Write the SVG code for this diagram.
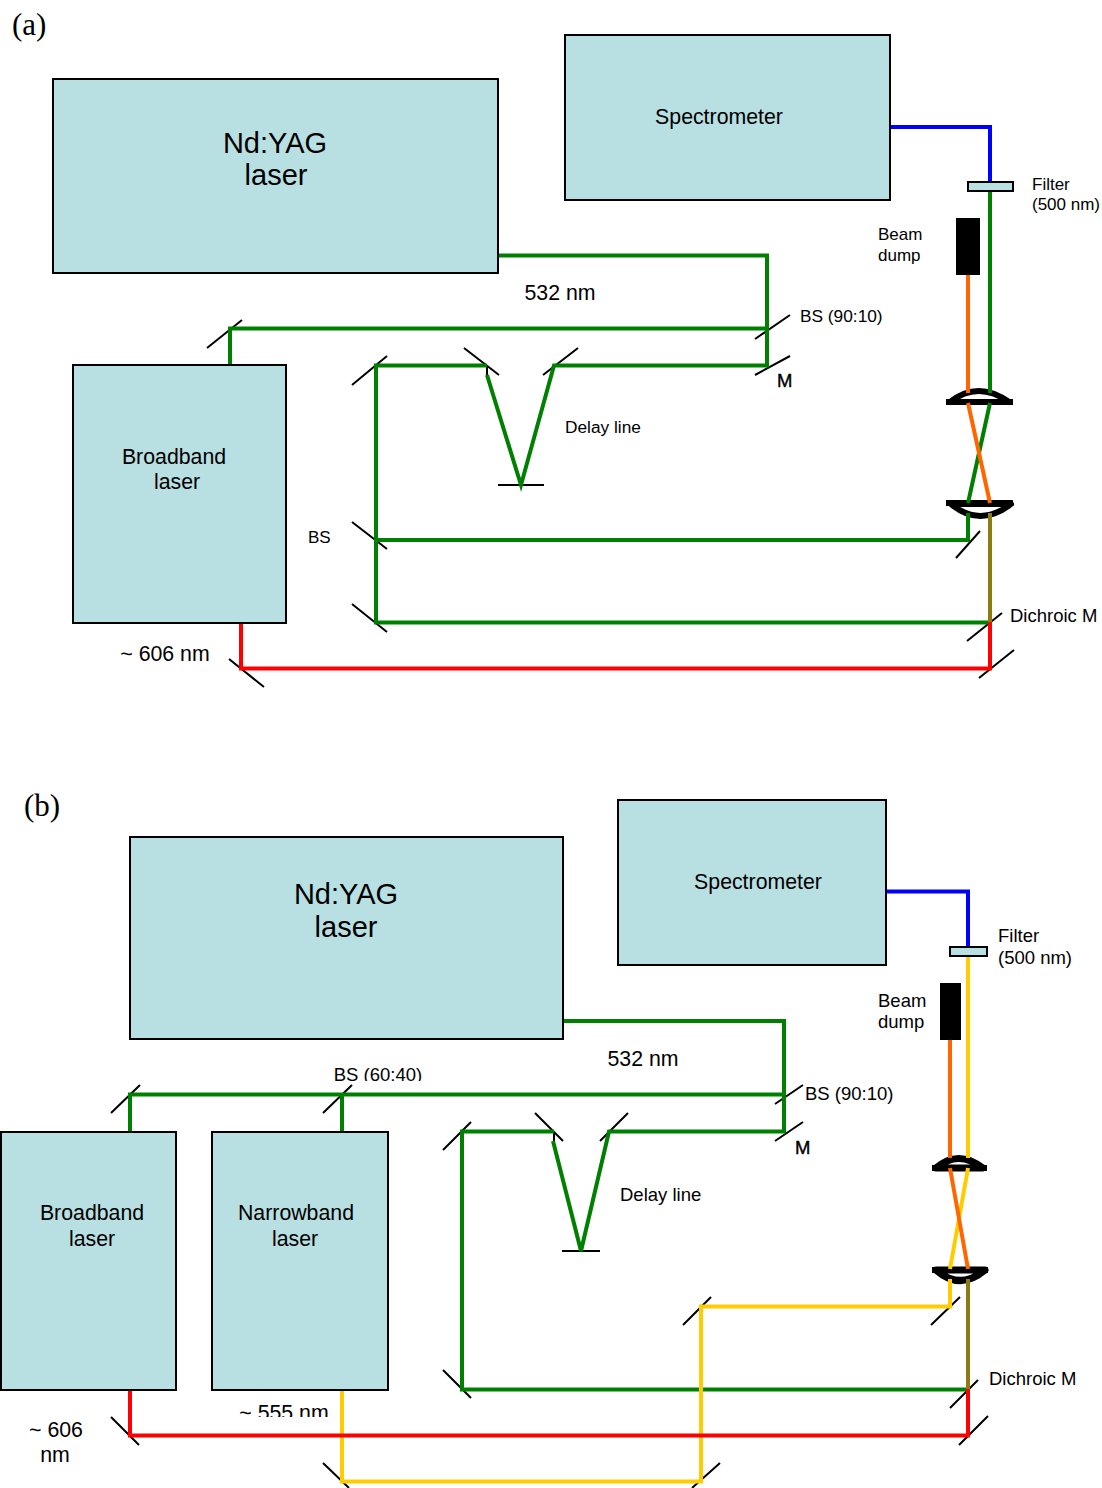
<svg xmlns="http://www.w3.org/2000/svg" width="1102" height="1488" viewBox="0 0 1102 1488">
<style>
.box{fill:#b8dfe2;stroke:#000;stroke-width:2}
.m{stroke:#000;stroke-width:2;fill:none}
.lens{stroke:#000;stroke-width:6;fill:#fff;stroke-linejoin:round}
.lensb{stroke:#000;stroke-width:7;fill:#fff;stroke-linejoin:round}
.flat{stroke:#000;stroke-width:6;fill:none}
.b{fill:none;stroke-width:4;stroke-linejoin:miter}
.g{stroke:#008000}.r{stroke:#ff0000}.o{stroke:#ff6600}.y{stroke:#ffcc00}.u{stroke:#0000ff}.ol{stroke:#8f7a10}
text{font-family:"Liberation Sans",Arial,sans-serif;fill:#000;text-anchor:middle}
.s{font-size:17.3px}.st{font-size:18.5px}.sm{font-size:17px}.xl{font-size:29px}.md{font-size:21.3px}.l{text-anchor:start}
.t{font-family:"Liberation Serif","Times New Roman",serif;font-size:31px;text-anchor:start}
.h{stroke:#000;stroke-width:.4}
</style>
<defs>
<clipPath id="c1"><rect x="320" y="1060" width="120" height="21"/></clipPath>
<clipPath id="c2"><rect x="230" y="1390" width="110" height="27"/></clipPath>
</defs>
<g id="optics-a">
<path class="m" d="M207 348L242 320M755 339L790 315M755 375L790 356M352 385L387 356M464 348L499 375M487 366V376M543 375L578 348M498 485H544M352 522L387 549M352 604L387 632M956 558L980 531M967 641L1002 613M979 678L1014 650M229 659L264 687"/>
</g>
<g id="lens-a1"><path class="lens" d="M950 402Q978 380 1009 402Z"/><path class="flat" d="M946 402H1013"/></g>
<g id="lens-a2"><path class="lens" d="M951 504Q980 528 1011 504Z"/><path class="flat" d="M946 503H1013"/></g>
<g id="connectors-a">
<path class="b g" d="M498 255.500H767V365.500H554L521 485L487 375M487 365.500H376V622.500H990M767 328.500H230V366M376 540H968V513M968 503L990 403M990 393V190"/>
<path class="b o" d="M968 275V393M968 403L990 503"/>
<path class="b u" d="M890 127H990V182"/>
<path class="b ol" d="M990 513V622"/>
<path class="b r" d="M241 623V668.500H990V622"/>
</g>
<g id="nd-yag-a"><rect class="box" x="53" y="79" width="445" height="194"/><text class="xl" x="275" y="153">Nd:YAG</text><text class="xl" x="276" y="185">laser</text></g>
<g id="spectrometer-a"><rect class="box" x="565" y="35" width="325" height="165"/><text class="md" x="719" y="124">Spectrometer</text></g>
<g id="broadband-a"><rect class="box" x="73" y="365" width="213" height="258"/><text class="md" x="174" y="464">Broadband</text><text class="md" x="177" y="489">laser</text></g>
<g id="filter-a"><rect class="box" x="968" y="182" width="45" height="9"/><text class="sm l" x="1032" y="190">Filter</text><text class="sm l" x="1032" y="210">(500 nm)</text></g>
<g id="dump-a"><rect x="956" y="218" width="24" height="57" fill="#000"/><text class="sm l" x="878" y="240">Beam</text><text class="sm l" x="878" y="261">dump</text></g>
<g id="labels-a">
<text class="t" x="12" y="35">(a)</text>
<text class="md" x="560" y="300">532 nm</text>
<text class="s l" x="800" y="322">BS (90:10)</text>
<text class="st l h" x="777" y="387">M</text>
<text class="s l" x="565" y="433">Delay line</text>
<text class="sm l" x="308" y="543">BS</text>
<text class="st l" x="1010" y="622">Dichroic M</text>
<text class="md" x="165" y="661">~ 606 nm</text>
</g>

<g id="optics-b">
<path class="m" d="M111 1113L140 1085M323 1113L352 1085M775 1104L803 1085M775 1141L803 1122M443 1150L471 1122M535 1113L563 1141M554 1132V1142M600 1141L628 1113M562 1251H600M443 1370L471 1398M931 1325L960 1297M950 1408L978 1380M959 1445L988 1416M683 1325L711 1297M111 1417L139 1445M323 1463L349 1488M692 1488L720 1463"/>
</g>
<g id="lens-b1"><path class="lensb" d="M936 1168Q958 1149 983 1168Z"/><path class="flat" d="M932 1168H987"/></g>
<g id="lens-b2"><path class="lensb" d="M936 1270Q960 1291 985 1270Z"/><path class="flat" d="M932 1270H988"/></g>
<g id="connectors-b">
<path class="b g" d="M563 1021H784V1131.500H609L581 1251L553 1141M554 1131.500H462V1389.500H968M784 1094.500H130V1132M342 1095V1132"/>
<path class="b y" d="M342 1390V1481.500H701V1306.500H950V1279M950 1269L968 1168M968 1158V955"/>
<path class="b o" d="M950 1040V1158M950 1168L968 1269"/>
<path class="b u" d="M886 891.500H968V946"/>
<path class="b ol" d="M968 1279V1389"/>
<path class="b r" d="M130 1390V1435.500H968V1389"/>
</g>
<g id="nd-yag-b"><rect class="box" x="130" y="837" width="433" height="202"/><text class="xl" x="346" y="904">Nd:YAG</text><text class="xl" x="346" y="937">laser</text></g>
<g id="spectrometer-b"><rect class="box" x="618" y="800" width="268" height="165"/><text class="md" x="758" y="889">Spectrometer</text></g>
<g id="broadband-b"><rect class="box" x="1" y="1132" width="175" height="258"/><text class="md" x="92" y="1220">Broadband</text><text class="md" x="92" y="1246">laser</text></g>
<g id="narrowband-b"><rect class="box" x="212" y="1132" width="176" height="258"/><text class="md" x="296" y="1220">Narrowband</text><text class="md" x="295" y="1246">laser</text></g>
<g id="filter-b"><rect class="box" x="950" y="947" width="37" height="9"/><text class="st l" x="998" y="942">Filter</text><text class="st l" x="998" y="964">(500 nm)</text></g>
<g id="dump-b"><rect x="940" y="983" width="21" height="57" fill="#000"/><text class="st l" x="878" y="1007">Beam</text><text class="st l" x="878" y="1028">dump</text></g>
<g id="labels-b">
<text class="t" x="24" y="816">(b)</text>
<text class="md" x="643" y="1066">532 nm</text>
<g clip-path="url(#c1)"><text class="st" x="378" y="1081">BS (60:40)</text></g>
<text class="st l" x="805" y="1100">BS (90:10)</text>
<text class="st l h" x="795" y="1154">M</text>
<text class="st l" x="620" y="1201">Delay line</text>
<text class="st l" x="989" y="1385">Dichroic M</text>
<g clip-path="url(#c2)"><text class="md" x="284" y="1420">~ 555 nm</text></g>
<text class="md" x="56" y="1437">~ 606</text>
<text class="md" x="55" y="1462">nm</text>
</g>
</svg>
